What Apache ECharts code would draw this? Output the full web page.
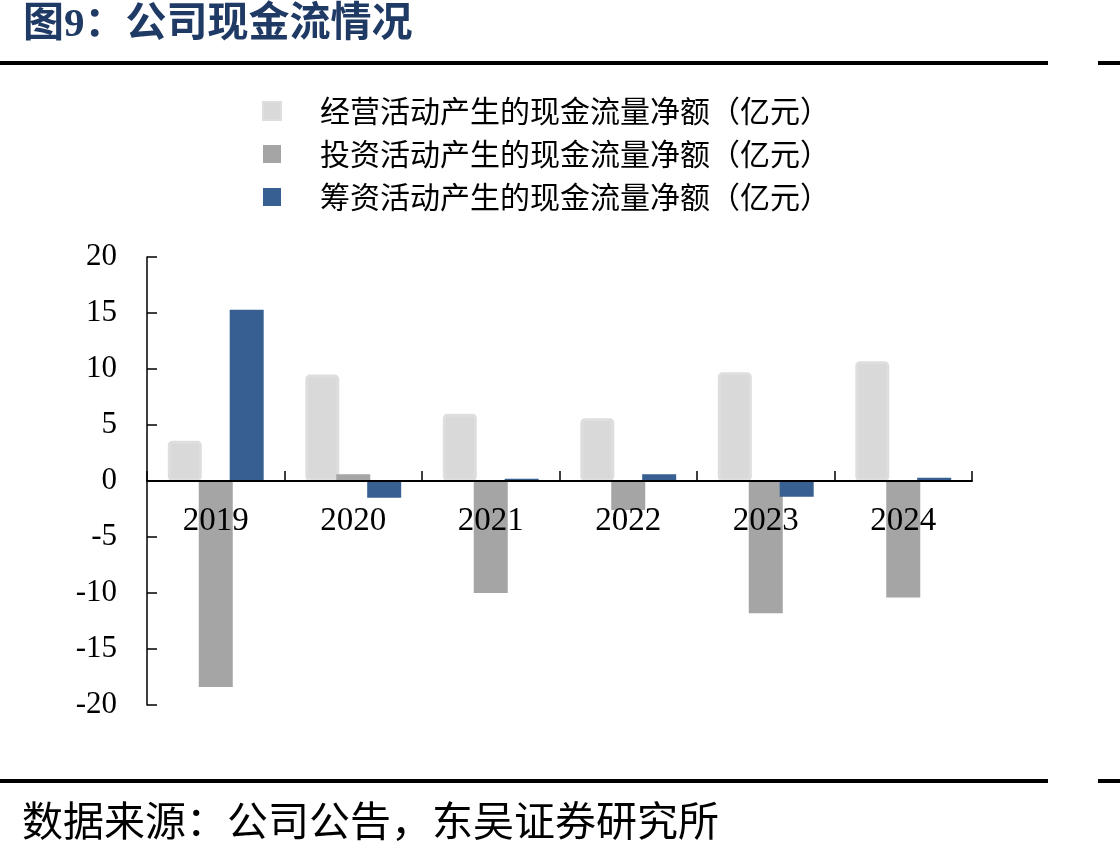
<!DOCTYPE html>
<html><head><meta charset="utf-8">
<script src="https://cdn.jsdelivr.net/npm/echarts@6/dist/echarts.min.js"></script>
<style>html,body{margin:0;padding:0;background:#fff}#chart{width:1120px;height:856px}</style>
</head><body><div id="chart"></div>
<script>
const categories = ['2019', '2020', '2021', '2022', '2023', '2024'];
const operatingCF = [3.6, 9.5, 6.0, 5.6, 9.7, 10.7];
const investingCF = [-18.4, 0.6, -10.0, -2.6, -11.8, -10.4];
const financingCF = [15.3, -1.5, 0.2, 0.6, -1.4, 0.3];
const seriesNames = ['经营活动产生的现金流量净额（亿元）', '投资活动产生的现金流量净额（亿元）', '筹资活动产生的现金流量净额（亿元）'];
const titleText = '图9：公司现金流情况';
const sourceText = '数据来源：公司公告，东吴证券研究所';
const yMin = -20, yMax = 20, yStep = 5;

const serif = '"Liberation Serif", "Times New Roman", "Noto Sans CJK SC", serif';
const cjk = '"Noto Sans CJK SC", sans-serif';

const chart = echarts.init(document.getElementById('chart'), null, {renderer: 'canvas'});
const gridTop = 257, gridBottom = 151, chartH = 856;
const plotH = chartH - gridTop - gridBottom;
const zeroOffset = -plotH * (0 - yMin) / (yMax - yMin);

chart.setOption({
  animation: false,
  backgroundColor: '#ffffff',
  title: {
    text: titleText, left: 18, top: 0,
    textStyle: {fontFamily: serif, fontSize: 41, fontWeight: 'bold', color: '#1F3A64'}
  },
  graphic: [
    {type: 'rect', shape: {x: 0, y: 61, width: 1048, height: 4}, style: {fill: '#000'}},
    {type: 'rect', shape: {x: 1098, y: 61, width: 22, height: 4}, style: {fill: '#000'}},
    {type: 'rect', shape: {x: 0, y: 779, width: 1048, height: 4}, style: {fill: '#000'}},
    {type: 'rect', shape: {x: 1098, y: 779, width: 22, height: 4}, style: {fill: '#000'}},
    {type: 'text', left: 22, top: 800, style: {text: sourceText, font: '41px ' + cjk, fill: '#000'}}
  ],
  legend: {
    orient: 'vertical', left: 262, top: 96, padding: 0,
    itemWidth: 18, itemHeight: 18, itemGap: 13, icon: 'rect',
    textStyle: {fontFamily: cjk, fontSize: 30, lineHeight: 30, color: '#000', padding: [0, 0, 0, 34]},
    data: seriesNames
  },
  grid: {left: 147, right: 148, top: gridTop, bottom: gridBottom, containLabel: false},
  xAxis: {
    type: 'category', data: categories, z: 5,
    offset: zeroOffset,
    axisLine: {onZero: false, lineStyle: {color: '#000', width: 2}},
    axisTick: {show: true, inside: true, length: 10, alignWithLabel: false, lineStyle: {color: '#000', width: 1.5}},
    axisLabel: {fontFamily: serif, fontSize: 33, color: '#000', margin: 24},
    splitLine: {show: false}
  },
  yAxis: {
    type: 'value', min: yMin, max: yMax, interval: yStep,
    axisLine: {show: true, lineStyle: {color: '#000', width: 1.5}},
    axisTick: {show: true, inside: true, length: 10, lineStyle: {color: '#000', width: 1.5}},
    axisLabel: {fontFamily: serif, fontSize: 31, color: '#000', margin: 30},
    splitLine: {show: false}
  },
  series: [
    {name: seriesNames[0], type: 'bar', data: operatingCF, barWidth: 34, barGap: '-9%',
     itemStyle: {color: '#D9D9D9', borderColor: '#DEDEDE', borderWidth: 3, borderRadius: 3}},
    {name: seriesNames[1], type: 'bar', data: investingCF, barWidth: 34, barGap: '-9%',
     itemStyle: {color: '#A5A5A5'}},
    {name: seriesNames[2], type: 'bar', data: financingCF, barWidth: 34, barGap: '-9%',
     itemStyle: {color: '#375F92'}}
  ]
});
</script></body></html>
